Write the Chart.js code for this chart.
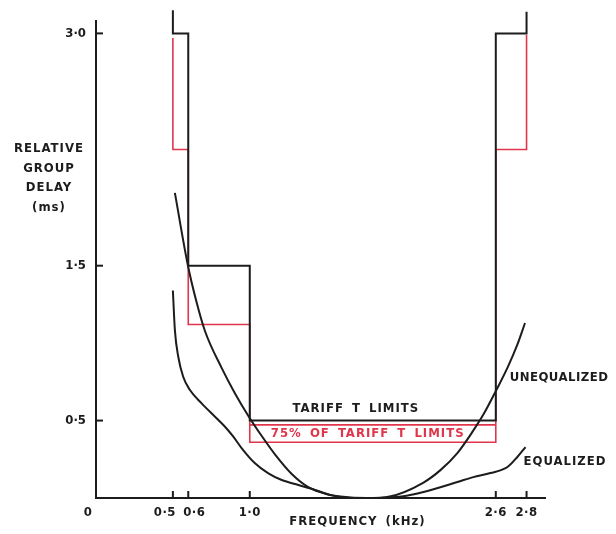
<!DOCTYPE html>
<html>
<head>
<meta charset="utf-8">
<script src="https://cdn.jsdelivr.net/npm/chart.js@4.4.0/dist/chart.umd.min.js"></script>
<style>
  html, body { margin: 0; padding: 0; background: #fff; }
  #wrap { width: 616px; height: 534px; }
</style>
</head>
<body>
<div id="wrap"><canvas id="chart" width="616" height="534"></canvas></div>
<script>
// tick positions (kHz / ms)
const freqTicks = [0.5, 0.6, 1.0, 2.6, 2.8]
const delayTicks = [0.5, 1.5, 3.0]

// tariff T limits (black step line)
const tariffF = [0.5, 0.5, 0.6, 0.6, 1.0, 1.0, 2.6, 2.6, 2.8, 2.8]
const tariffD = [3.15, 3.0, 3.0, 1.5, 1.5, 0.5, 0.5, 3.0, 3.0, 3.14]

// 75% of tariff T limits (red step line + top of the label box)
const tariff75F = [0.5, 0.5, 0.6, 0.6, 1.0, 1.0, 2.6, 2.6, 2.8, 2.8]
const tariff75D = [2.97, 2.25, 2.25, 1.12, 1.12, 0.36, 0.36, 2.25, 2.25, 2.99]
const boxTopF = [1.0, 2.6]
const boxTopD = [0.472, 0.472]

// unequalized delay curve
const unF = [0.513, 0.598, 0.65, 0.708, 0.817, 0.904, 0.991, 1.078, 1.165, 1.273, 1.381, 1.5, 1.59, 1.76, 1.91, 2.13, 2.24, 2.35, 2.45, 2.52, 2.6, 2.68, 2.74, 2.79]
const unD = [1.97, 1.50, 1.28, 1.08, 0.84, 0.675, 0.53, 0.40, 0.28, 0.155, 0.07, 0.025, 0.01, 0.0, 0.01, 0.10, 0.18, 0.29, 0.43, 0.54, 0.69, 0.85, 0.99, 1.13]

// equalized delay curve
const eqF = [0.5, 0.513, 0.535, 0.567, 0.611, 0.687, 0.774, 0.839, 0.893, 0.948, 1.034, 1.121, 1.208, 1.316, 1.425, 1.523, 1.65, 1.78, 1.91, 2.02, 2.13, 2.35, 2.454, 2.565, 2.676, 2.74, 2.793]
const eqD = [1.34, 1.084, 0.912, 0.783, 0.697, 0.611, 0.525, 0.46, 0.396, 0.321, 0.224, 0.159, 0.116, 0.084, 0.052, 0.019, 0.0, 0.0, 0.004, 0.015, 0.039, 0.103, 0.135, 0.161, 0.20, 0.265, 0.329]

const ink = '#1c1c1c'
const red = '#e0364c'
const family = 'DejaVu Sans Condensed'

const pts = (xs, ys) => xs.map((x, i) => ({ x, y: ys[i] }))
const dot = v => Number(v).toFixed(1).replace('.', '\u00B7')

const line = (data, color, width, extra) => Object.assign({
  data, borderColor: color, borderWidth: width, pointRadius: 0, tension: 0, fill: false
}, extra || {})

// small nudges so the crowded 0.5 / 0.6 labels sit apart as in the drawing
const labelNudge = { 0.5: -8, 0.6: 6 }

// text, x labels and inward tick marks, placed from the scales
const annotate = {
  id: 'annotate',
  afterDraw (chart) {
    const { ctx, scales: { x, y }, chartArea: a } = chart
    ctx.save()
    ctx.strokeStyle = ink
    ctx.lineWidth = 2
    freqTicks.forEach(v => {
      const px = x.getPixelForValue(v)
      ctx.beginPath(); ctx.moveTo(px, a.bottom); ctx.lineTo(px, a.bottom - 7); ctx.stroke()
    })
    delayTicks.forEach(v => {
      const py = y.getPixelForValue(v)
      ctx.beginPath(); ctx.moveTo(a.left, py); ctx.lineTo(a.left + 7, py); ctx.stroke()
    })

    const text = (s, px, py, color, align) => {
      ctx.fillStyle = color
      ctx.textAlign = align || 'center'
      ctx.textBaseline = 'middle'
      ctx.fillText(s, px, py)
    }
    ctx.font = 'bold 13px "' + family + '"'
    ctx.letterSpacing = '0.5px'
    text('0', x.getPixelForValue(0) - 8, a.bottom + 15, ink)
    freqTicks.forEach(v => text(dot(v), x.getPixelForValue(v) + (labelNudge[v] || 0), a.bottom + 15, ink))
    text('UNEQUALIZED', x.getPixelForValue(2.69), y.getPixelForValue(0.78), ink, 'left')

    ctx.letterSpacing = '1px'
    ctx.wordSpacing = '3px'
    text('TARIFF T LIMITS', x.getPixelForValue(1.69), y.getPixelForValue(0.574), ink)
    text('75% OF TARIFF T LIMITS', x.getPixelForValue(1.767), y.getPixelForValue(0.413), red)
    text('EQUALIZED', x.getPixelForValue(2.78), y.getPixelForValue(0.232), ink, 'left')
    text('FREQUENCY (kHz)', x.getPixelForValue(1.70), a.bottom + 24, ink)
    const yt = ['RELATIVE', 'GROUP', 'DELAY', '(ms)']
    yt.forEach((s, i) => text(s, 49, 149 + i * 19.5, ink))
    ctx.restore()
  }
}

new Chart(document.getElementById('chart'), {
  type: 'line',
  data: {
    datasets: [
      line(pts(tariffF, tariffD), ink, 2, { clip: false }),
      line(pts(unF, unD), ink, 2, { cubicInterpolationMode: 'monotone' }),
      line(pts(eqF, eqD), ink, 2, { cubicInterpolationMode: 'monotone' }),
      line(pts(tariff75F, tariff75D), red, 1.6, { clip: false }),
      line(pts(boxTopF, boxTopD), red, 1.6)
    ]
  },
  options: {
    responsive: false,
    animation: false,
    layout: { padding: { top: 21, right: 71, left: 0, bottom: 0 } },
    plugins: { legend: { display: false }, tooltip: { enabled: false } },
    scales: {
      x: {
        type: 'linear',
        min: 0,
        max: 2.92,
        afterBuildTicks: s => { s.ticks = freqTicks.map(v => ({ value: v })) },
        afterFit: s => { s.height = 36 },
        grid: { drawOnChartArea: false, drawTicks: false },
        border: { color: ink, width: 2 },
        ticks: { display: false }
      },
      y: {
        type: 'linear',
        min: 0,
        max: 3.08,
        afterBuildTicks: s => { s.ticks = delayTicks.map(v => ({ value: v })) },
        afterFit: s => { s.width = 96 },
        grid: { drawOnChartArea: false, drawTicks: false },
        border: { color: ink, width: 2 },
        ticks: { padding: 10, color: ink, font: { family, size: 13, weight: 'bold' }, callback: dot, autoSkip: false }
      }
    }
  },
  plugins: [annotate]
})
</script>
</body>
</html>
